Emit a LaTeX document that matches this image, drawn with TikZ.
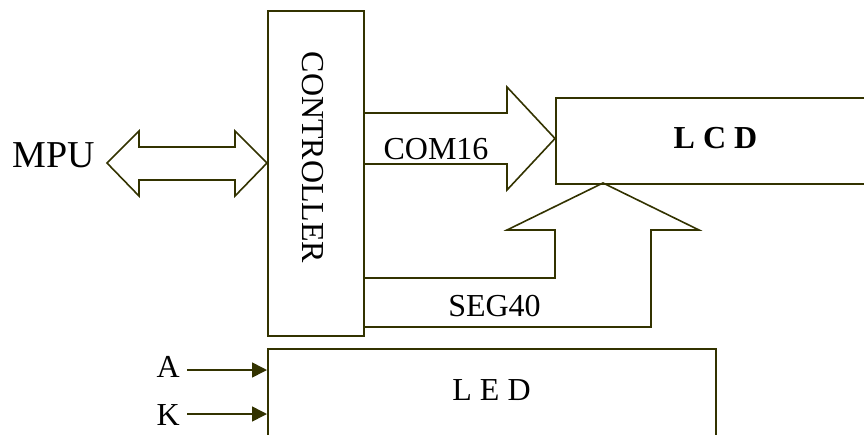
\documentclass[tikz,border=0pt]{standalone}
\usepackage{fontspec}
\setmainfont{Liberation Serif}
\usetikzlibrary{arrows.meta}
\definecolor{olv}{RGB}{51,51,0}
\begin{document}
\begin{tikzpicture}[x=1pt,y=-1pt,
  box/.style={draw=olv, line width=1.6pt, inner sep=0pt, anchor=north west},
  bus/.style={draw=olv, line width=1.6pt, line join=miter},
  lbl/.style={inner sep=0pt, font=\fontsize{32}{38}\selectfont},
  sig/.style={draw=olv, line width=1.6pt, -{Triangle[length=15pt,width=15pt]}}]
\clip (0,0) rectangle (864,434);
% blocks
\node[box, minimum width=96pt, minimum height=325pt] (ctrl) at (267,10) {};
\node[lbl, rotate=-90] (ctrltxt) at (313,157.5) {CONTROLLER};
\node[box, minimum width=330pt, minimum height=86pt] (lcd) at (555,97) {};
\node[lbl, font=\fontsize{32}{38}\selectfont\bfseries, anchor=base] (lcdtxt) at (715.5,148) {L C D};
\node[box, minimum width=448pt, minimum height=110pt] (led) at (267,348) {};
\node[lbl, anchor=base] (ledtxt) at (491.5,400) {L E D};
% labels
\node[lbl, font=\fontsize{38}{44}\selectfont, anchor=base] (mpu) at (54,167) {MPU};
\node[lbl, anchor=base] (com) at (436,159) {COM16};
\node[lbl, anchor=base] (seg) at (494.5,316) {SEG40};
\node[lbl, anchor=base east] (a) at (180,377) {A};
\node[lbl, anchor=base east] (k) at (180,425) {K};
% MPU double arrow
\draw[bus] (107,163) -- (139,131) -- (139,147) -- (235,147) -- (235,131)
  -- (267,163) -- (235,196) -- (235,180) -- (139,180) -- (139,196) -- cycle;
% COM16 bus arrow
\draw[bus] (363,113) -- (507,113) -- (507,87) -- (555,138.5) -- (507,190)
  -- (507,164) -- (363,164);
% SEG40 bus arrow
\draw[bus] (363,278) -- (555,278) -- (555,230) -- (507,230) -- (603,183)
  -- (699,230) -- (651,230) -- (651,327) -- (363,327);
% A and K signals
\coordinate (aS) at (187,370);
\coordinate (kS) at (187,414);
\draw[sig] (aS) -- (aS -| led.west);
\draw[sig] (kS) -- (kS -| led.west);
\end{tikzpicture}
\end{document}
